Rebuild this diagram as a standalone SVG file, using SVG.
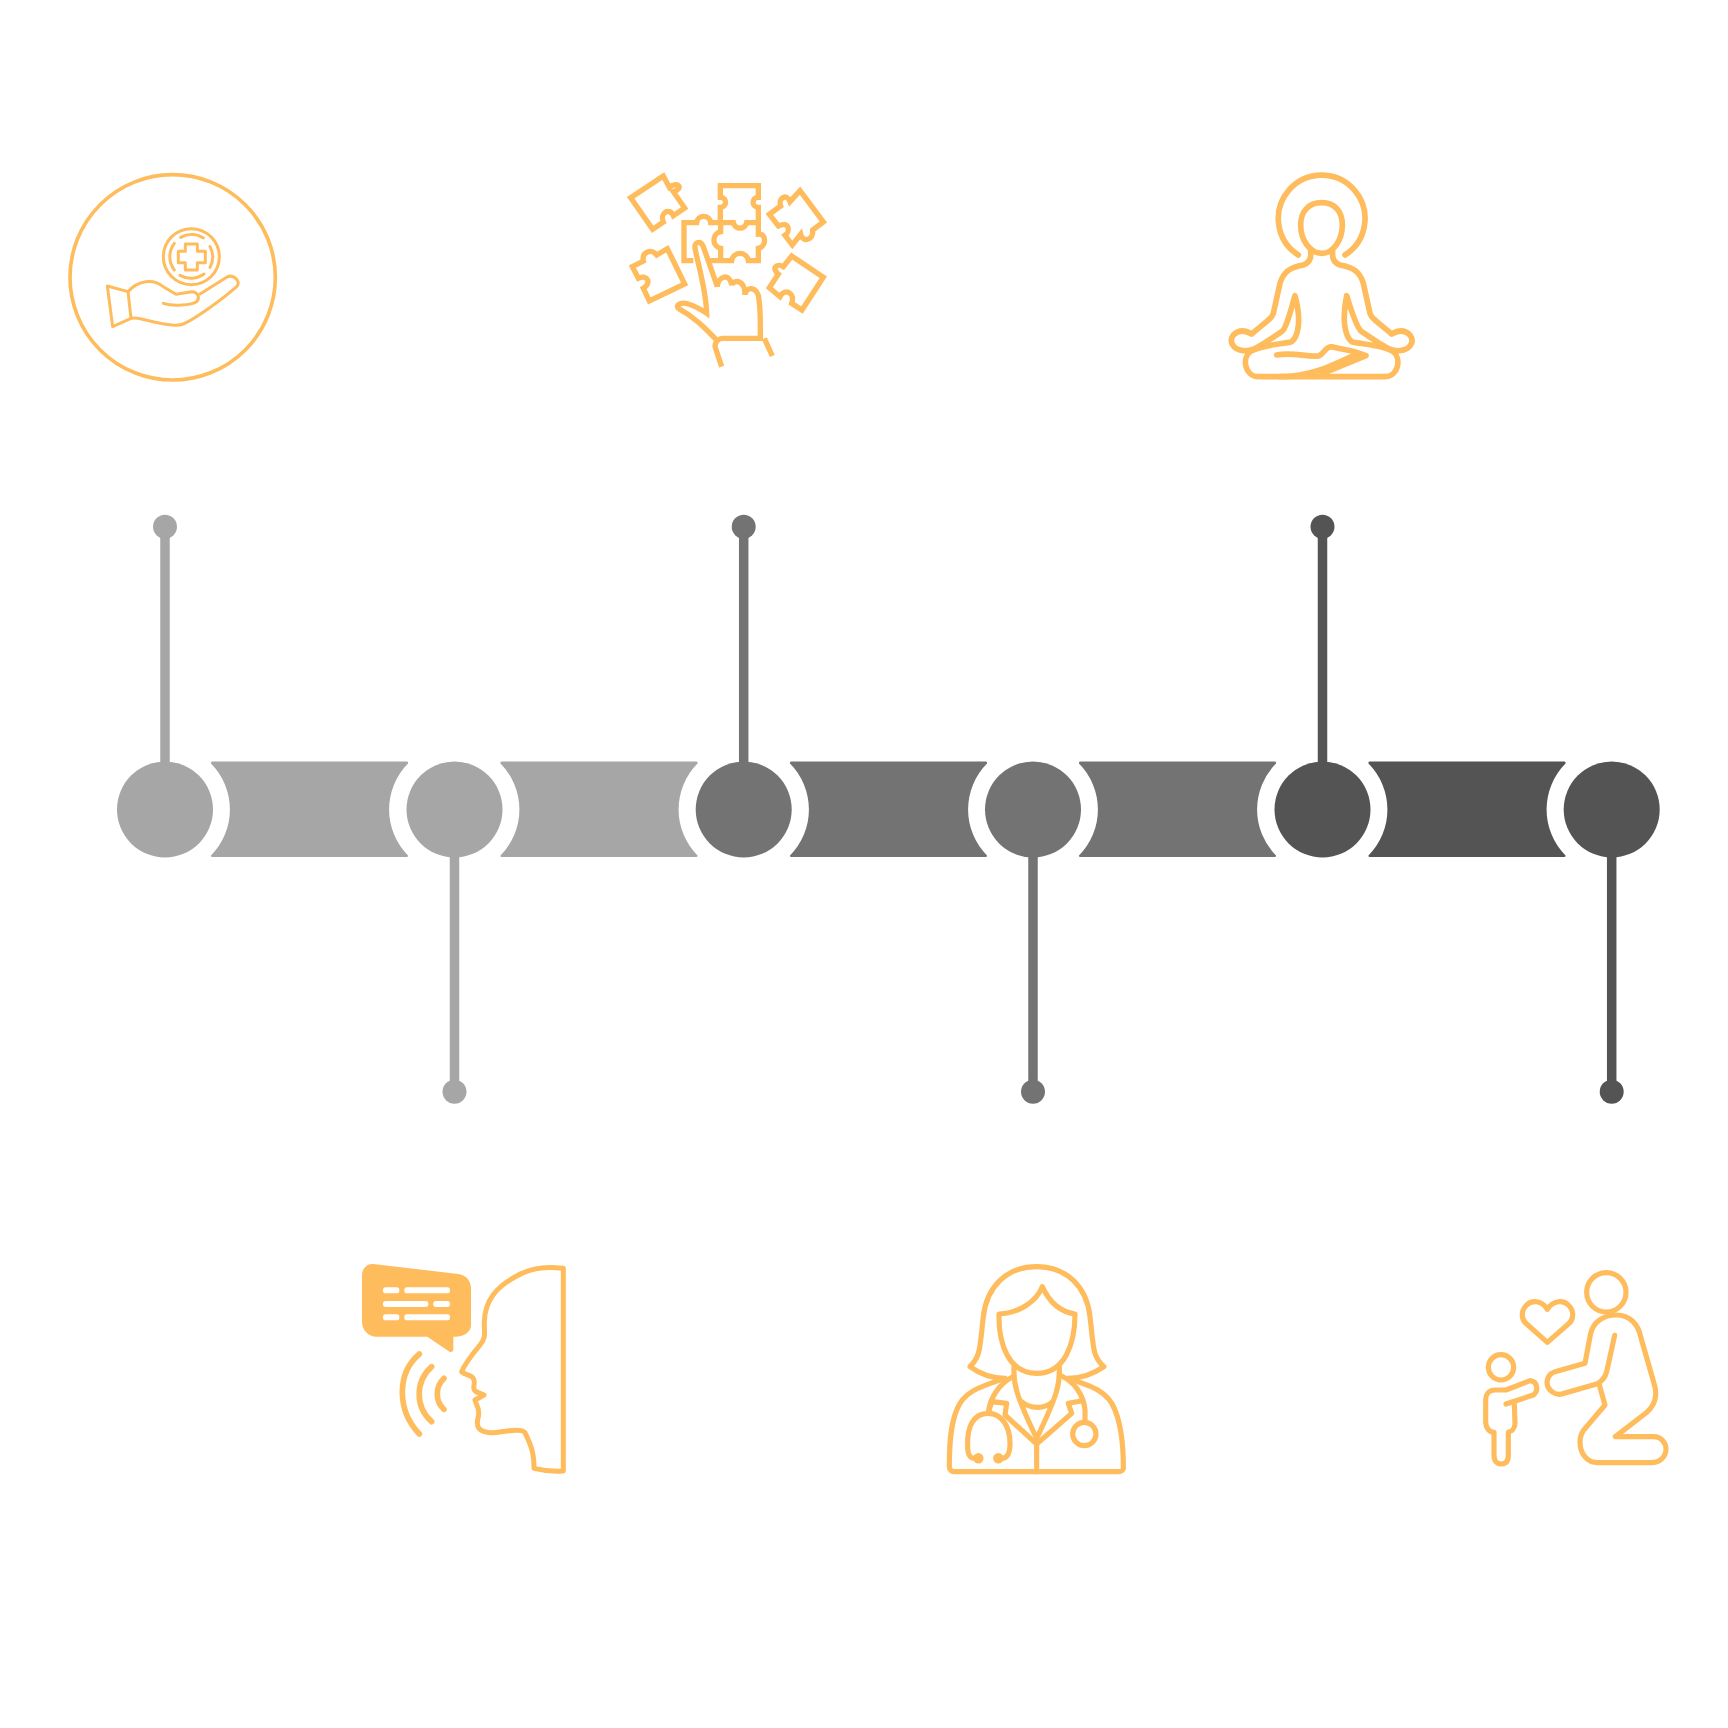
<svg xmlns="http://www.w3.org/2000/svg" width="1728" height="1728" viewBox="0 0 1728 1728">
<style>
.ic{fill:none;stroke:#FFBC5C;stroke-linejoin:round;stroke-linecap:round}
.a{fill:#A6A6A6}.b{fill:#737373}.c{fill:#545454}
.sa{stroke:#A6A6A6}.sb{stroke:#737373}.sc{stroke:#545454}
.st{stroke-width:9.5;fill:none}
.w{fill:#fff}
</style>
<defs>
<path id="band" d="M212.500 761.500H406.500Q408.500 761.500 408 763.500A65.400 65.400 0 0 0 408 855.500Q408.500 857 406.500 857H212.500Q210.500 857 211 855.500A65.400 65.400 0 0 0 211 763.500Q210.500 761.500 212.500 761.500Z"/>
</defs>
<rect width="1728" height="1728" fill="#fff"/>
<g id="connectors">
<path class="st sa" d="M165 527V770"/>
<path class="st sa" d="M454.500 850V1092"/>
<path class="st sb" d="M743.700 527V770"/>
<path class="st sb" d="M1033 850V1092"/>
<path class="st sc" d="M1322.500 527V770"/>
<path class="st sc" d="M1611.700 850V1092"/>
</g>
<g id="bands">
<use href="#band" class="a"/>
<use href="#band" class="a" x="289.500"/>
<use href="#band" class="b" x="579"/>
<use href="#band" class="b" x="868"/>
<use href="#band" class="c" x="1157.500"/>
</g>
<g id="node-1"><circle class="a" cx="165" cy="809.500" r="48"/><circle class="a" cx="165" cy="526.700" r="12"/></g>
<g id="node-2"><circle class="a" cx="454.500" cy="809.500" r="48"/><circle class="a" cx="454.500" cy="1091.700" r="12"/></g>
<g id="node-3"><circle class="b" cx="743.700" cy="809.500" r="48"/><circle class="b" cx="743.700" cy="526.700" r="12"/></g>
<g id="node-4"><circle class="b" cx="1033" cy="809.500" r="48"/><circle class="b" cx="1033" cy="1091.700" r="12"/></g>
<g id="node-5"><circle class="c" cx="1322.500" cy="809.500" r="48"/><circle class="c" cx="1322.500" cy="526.700" r="12"/></g>
<g id="node-6"><circle class="c" cx="1611.700" cy="809.500" r="48"/><circle class="c" cx="1611.700" cy="1091.700" r="12"/></g>

<g id="icon-care" class="ic" transform="translate(50 150) scale(.33333)">
<circle cx="368" cy="382" r="308" stroke-width="11"/>
<g stroke-width="9">
<circle cx="424" cy="320" r="84"/>
<path d="M392 262A66 66 0 0 1 460 264M373 280A66 66 0 0 0 373 360M480 290A66 66 0 0 1 480 352M390 376A66 66 0 0 0 462 372"/>
<path d="M406 282H442V304H466V338H442V360H406V338H385V304H406Z"/>
<path d="M172 408L234 425L243 505L188 530Z"/>
<path d="M234 425C265 390 310 385 340 410L378 433L425 425C445 425 450 445 440 455C425 465 370 470 340 460"/>
<path d="M450 432L530 382C550 370 575 395 560 410C520 445 440 505 400 522C375 532 330 520 275 507C265 505 255 503 243 505"/>
</g></g>

<g id="icon-puzzle" class="ic" transform="translate(610 150) scale(.33333)" stroke-width="16" style="stroke-linecap:butt;stroke-linejoin:miter">
<path d="M160 78L62 143L128 238L160 216C148 190 178 170 190 197L224 174L190 125C222 116 205 92 178 112Z"/>
<path d="M331 218V172C352 172 352 142 331 142V107H445V142C424 142 424 172 445 172V218"/>
<path d="M325 218H302C300 193 262 193 260 218H222V332H250M300 332H365C370 303 410 303 415 332H445V295C470 290 470 250 445 252V218H410C405 240 375 240 370 218H325M332 218V245C305 250 305 290 332 295V332"/>
<path d="M570 122L640 216L608 240C612 272 578 278 572 253L547 285L525 256C542 245 538 212 505 228L478 193L512 168C503 145 530 128 540 155Z"/>
<path d="M172 296L224 402L118 453L100 415C124 400 115 372 85 385L67 350L100 333C95 305 125 295 140 315Z"/>
<path d="M545 318L640 382L576 480L545 460C557 430 525 412 510 440L478 413L505 372C483 355 500 338 520 350Z"/>
<path d="M322 410L280 290C272 270 252 275 255 295C268 360 288 420 290 490C275 480 255 468 235 462C215 455 195 465 205 475C260 505 290 540 322 572"/>
<path d="M322 410C325 375 360 370 365 405C370 390 405 385 405 435C405 410 445 405 447 450C452 480 451 520 451 565H340C325 565 315 575 315 590L335 650M463 565L487 618"/>
</g>

<g id="icon-meditation" class="ic" transform="translate(1210 150) scale(.33333)" stroke-width="17">
<path d="M265 315A130 130 0 1 1 405 315"/>
<path d="M335 158C295 158 272 185 272 225C272 270 300 310 335 310C370 310 397 270 397 225C397 185 375 158 335 158Z"/>
<path d="M302 305C305 330 295 340 280 345C240 352 220 365 210 400L190 490C185 505 175 510 125 552C105 540 85 540 70 555C55 575 70 600 100 602C125 605 145 590 165 578L215 545C230 535 245 470 255 437C275 510 265 560 245 575C220 582 150 585 120 605C95 625 105 680 145 680H525C565 680 575 625 550 605C520 585 450 582 425 575C405 560 395 510 410 437C420 470 440 535 455 545L505 578C525 590 545 605 570 602C600 600 615 575 600 555C585 540 565 540 545 552C495 510 485 505 480 490L460 400C450 365 430 352 390 345C375 340 365 330 368 305"/>
<path d="M200 615C250 605 290 622 325 618C340 615 345 590 365 590C395 598 420 600 440 607L468 617L335 672"/>
<path d="M210 680C300 680 360 650 440 612"/>
</g>

<g id="icon-speech" class="ic" transform="translate(340 1250) scale(.33333)" stroke-width="17">
<path style="fill:#FFBC5C;stroke:none" d="M100 42L355 72C380 75 393 95 393 115V225C393 245 375 260 345 260H340V300C338 307 330 307 325 303L262 260H110C85 260 66 240 66 215V75C66 55 82 40 100 42Z"/>
<g style="stroke:none" class="w">
<rect class="w" x="129" y="112" width="49" height="18" rx="8"/><rect class="w" x="193" y="112" width="137" height="18" rx="8"/>
<rect class="w" x="129" y="153" width="136" height="18" rx="8"/><rect class="w" x="280" y="153" width="50" height="18" rx="8"/>
<rect class="w" x="129" y="193" width="49" height="18" rx="8"/><rect class="w" x="193" y="193" width="137" height="18" rx="8"/>
</g>
<path d="M238 312C170 370 170 480 238 552M275 350C225 395 225 470 275 515M312 385C285 410 285 455 312 478"/>
<path stroke-width="15" d="M668 55C620 48 575 52 530 78C470 110 435 150 433 215C432 250 440 260 420 285C395 315 375 340 365 365C375 375 395 375 400 385C410 400 392 415 408 425L432 435L405 450C410 470 420 475 415 500C405 535 420 545 450 548C480 550 540 530 555 548C575 590 582 610 582 655C610 662 640 665 670 663V55Z"/>
</g>

<g id="icon-doctor" class="ic" transform="translate(930 1250) scale(.33333)" stroke-width="15.500">
<path d="M225 385C185 385 150 372 120 350C130 340 140 325 145 310C152 290 155 240 160 200C170 110 230 50 320 50C410 50 470 110 480 200C485 240 488 290 495 310C500 325 510 340 522 350C490 372 455 385 415 385"/>
<path d="M337 110C320 155 265 190 207 192C205 280 235 370 320 370C405 370 435 280 435 192C385 185 355 150 337 110Z"/>
<path d="M252 350C250 400 255 430 320 565C385 430 390 400 388 350M275 455C300 478 345 478 368 455"/>
<path d="M225 385C150 410 100 425 80 480C60 530 58 590 58 650C58 660 65 665 75 665H565C575 665 582 660 580 650C580 590 575 530 555 480C535 425 490 410 415 385"/>
<path d="M320 665V582L225 495L230 460L185 455L175 488M320 582L425 490L415 460L458 452"/>
<path d="M248 380C210 400 180 440 175 488M395 378C430 395 460 430 465 480V515"/>
<circle cx="463" cy="552" r="35"/>
<path d="M145 625H135C120 625 113 615 113 590C110 530 130 490 175 490C215 490 240 530 240 580C240 615 230 628 205 625"/>
<circle cx="145" cy="625" r="8" style="fill:#FFBC5C"/><circle cx="205" cy="625" r="8" style="fill:#FFBC5C"/>
</g>

<g id="icon-family" class="ic" transform="translate(1470 1250) scale(.33333)" stroke-width="15.500">
<circle cx="409" cy="127" r="59"/>
<path d="M232 178C215 150 185 150 170 165C150 185 155 210 170 222L232 277L295 222C310 210 315 185 295 165C280 150 250 150 232 178Z"/>
<path d="M434 256L410 365C405 385 395 395 380 402L275 432C255 437 235 420 232 405C228 385 240 370 255 365L345 340L362 250C370 215 400 195 440 195C480 195 505 225 512 260L552 400C565 440 555 470 520 495L436 560H550C575 560 588 580 588 597C588 620 570 638 545 638H385C350 638 330 610 330 575C330 555 340 540 350 530L405 465L388 405"/>
<circle cx="93" cy="352" r="38"/>
<path d="M108 462L190 435C205 425 205 395 180 392L108 420H75C55 420 47 435 47 450V515C47 535 60 547 72 547V615C72 635 82 642 93 642C105 642 115 635 115 615V547C125 545 135 535 135 520L133 462"/>
</g>
</svg>
